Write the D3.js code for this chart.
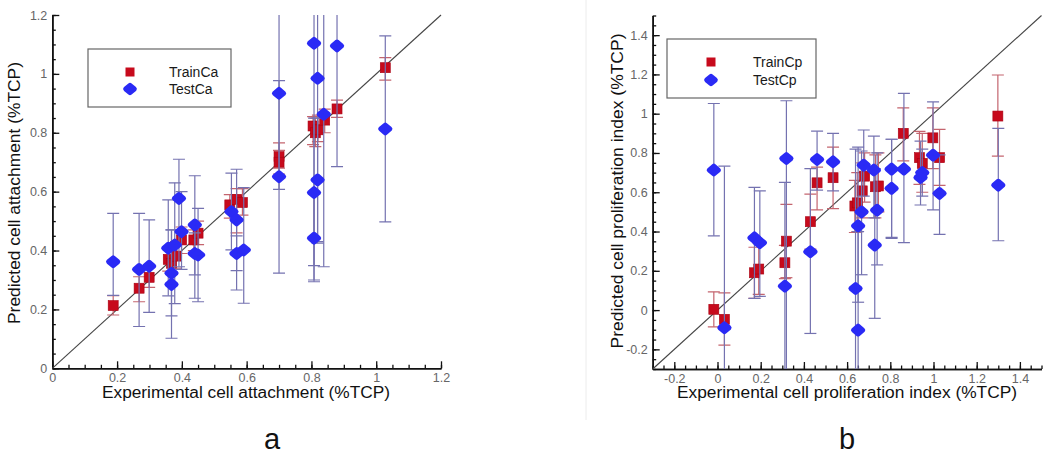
<!DOCTYPE html>
<html><head><meta charset="utf-8">
<script src="https://cdn.jsdelivr.net/npm/d3@7"></script>
<style>
html,body{margin:0;padding:0;background:#fff;}
svg text{font-family:"Liberation Sans",Arial,sans-serif;}
</style></head>
<body><svg id="c" width="1050" height="458"></svg>
<script>
// ---------- DATA ----------
// Panel a: cell attachment
const trainCaX  = [0.188,0.268,0.299,0.358,0.368,0.382,0.399,0.437,0.45,0.548,0.569,0.587,0.70,0.70,0.805,0.812,0.82,0.841,0.879,1.028];
const trainCaY  = [0.213,0.272,0.309,0.37,0.357,0.381,0.436,0.436,0.459,0.555,0.574,0.563,0.719,0.70,0.823,0.80,0.81,0.843,0.881,1.021];
const trainCaLo = [0.181,0.226,0.275,0.33,0.32,0.34,0.39,0.40,0.42,0.51,0.46,0.52,0.68,0.66,0.76,0.753,0.77,0.80,0.852,0.979];
const trainCaHi = [0.247,0.311,0.345,0.41,0.40,0.43,0.48,0.47,0.50,0.59,0.61,0.61,0.766,0.74,0.855,0.85,0.86,0.88,0.911,1.055];

const testCaX  = [0.188,0.268,0.299,0.358,0.368,0.368,0.378,0.391,0.399,0.44,0.44,0.45,0.553,0.569,0.569,0.591,0.70,0.70,0.808,0.808,0.808,0.819,0.819,0.838,0.879,1.028];
const testCaY  = [0.362,0.336,0.347,0.408,0.323,0.285,0.419,0.577,0.464,0.487,0.39,0.385,0.532,0.504,0.39,0.402,0.934,0.651,1.104,0.597,0.442,0.985,0.64,0.863,1.095,0.813];
const testCaLo = [0.248,0.142,0.19,0.246,0.178,0.102,0.22,0.345,0.336,0.238,0.317,0.226,0.402,0.266,0.332,0.221,0.323,0.608,0.294,0.349,0.30,0.425,0.43,0.345,0.685,0.497];
const testCaHi = [0.526,0.526,0.504,0.572,0.47,0.47,0.63,0.71,0.60,0.654,0.46,0.543,0.663,0.676,0.45,0.614,1.5,0.977,1.5,0.85,0.60,1.5,0.85,1.5,1.5,1.129];

// Panel b: cell proliferation index
const trainCpX  = [-0.017,0.032,0.171,0.191,0.312,0.319,0.43,0.461,0.535,0.636,0.647,0.67,0.681,0.731,0.745,0.86,0.935,0.948,0.997,1.028,1.298];
const trainCpY  = [0.004,-0.047,0.19,0.209,0.241,0.351,0.45,0.648,0.674,0.53,0.546,0.607,0.682,0.628,0.632,0.9,0.776,0.747,0.877,0.776,0.988];
const trainCpLo = [-0.085,-0.178,0.06,0.08,0.16,0.165,0.31,0.51,0.517,0.395,0.40,0.47,0.55,0.47,0.50,0.76,0.64,0.60,0.72,0.635,0.784];
const trainCpHi = [0.093,0.088,0.32,0.34,0.33,0.538,0.59,0.728,0.83,0.66,0.70,0.75,0.80,0.79,0.80,1.03,0.91,0.90,1.03,0.92,1.197];

const testCpX  = [-0.017,0.032,0.171,0.196,0.319,0.312,0.43,0.461,0.535,0.639,0.651,0.651,0.667,0.677,0.724,0.728,0.739,0.806,0.806,0.863,0.94,0.948,0.998,1.028,1.3];
const testCpY  = [0.713,-0.09,0.368,0.343,0.772,0.122,0.297,0.767,0.755,0.11,0.429,-0.102,0.5,0.738,0.713,0.331,0.509,0.718,0.62,0.718,0.675,0.70,0.789,0.594,0.636];
const testCpLo = [0.378,-0.5,0.06,0.07,-0.5,-0.5,-0.119,0.611,0.607,-0.5,0.04,-0.5,0.18,0.58,0.47,-0.042,0.23,0.37,0.365,0.343,0.535,0.58,0.51,0.385,0.353];
const testCpHi = [1.052,0.733,0.625,0.607,1.066,0.65,0.72,0.911,0.9,0.82,0.83,0.40,0.81,0.917,0.886,0.72,0.80,0.87,0.87,1.103,0.86,0.82,1.06,0.79,0.925];

// Ticks
const ticksA      = [0,0.2,0.4,0.6,0.8,1,1.2];
const tickLabelsA = ["0","0.2","0.4","0.6","0.8","1","1.2"];
const ticksB      = [-0.2,0,0.2,0.4,0.6,0.8,1,1.2,1.4];
const tickLabelsB = ["-0.2","0","0.2","0.4","0.6","0.8","1","1.2","1.4"];

const panelA = {
  xDom:[0,1.2], yDom:[0,1.2], xR:[52.3,441], yR:[368.3,15],
  train:{x:trainCaX,y:trainCaY,lo:trainCaLo,hi:trainCaHi,name:"TrainCa"},
  test:{x:testCaX,y:testCaY,lo:testCaLo,hi:testCaHi,name:"TestCa"},
  ticks:ticksA, labels:tickLabelsA,
  xTitle:"Experimental cell attachment (%TCP)", xTitleLen:288, xTitleX:246,
  yTitle:"Predicted cell attachment (%TCP)", yTitleLen:262, yTitleX:20, yTitleY:193,
  legend:{x:88,y:49,w:143,h:58,mx:130,tx:169,y1:72,y2:89},
  tag:"a", tagX:272
};
const panelB = {
  xDom:[-0.3,1.5], yDom:[-0.3,1.5], xR:[652.7,1041.5], yR:[369,15.5],
  train:{x:trainCpX,y:trainCpY,lo:trainCpLo,hi:trainCpHi,name:"TrainCp"},
  test:{x:testCpX,y:testCpY,lo:testCpLo,hi:testCpHi,name:"TestCp"},
  ticks:ticksB, labels:tickLabelsB,
  xTitle:"Experimental cell proliferation index (%TCP)", xTitleLen:340, xTitleX:847,
  yTitle:"Predicted cell proliferation index (%TCP)", yTitleLen:315, yTitleX:623, yTitleY:191,
  legend:{x:667,y:39,w:149,h:59,mx:711,tx:753,y1:62,y2:80},
  tag:"b", tagX:847
};

// ---------- DRAW ----------
const svg = d3.select("#c");
const RED = "#c70a1c", BLUE = "#2a2af5", RED_ERR = "#c4646e", BLUE_ERR = "#7472b0";

// faint frame line of panel b
svg.append("line").attr("x1",586).attr("x2",586).attr("y1",0).attr("y2",420)
   .attr("stroke","#ececec").attr("stroke-width",1);

function diamondPath(rx, ry){ return `M0,${-ry}L${rx},0L0,${ry}L${-rx},0Z`; }

function drawPanel(p, idx){
  const x = d3.scaleLinear(p.xDom, p.xR);
  const y = d3.scaleLinear(p.yDom, p.yR);
  const g = svg.append("g");

  const clipId = "clip"+idx;
  svg.append("clipPath").attr("id",clipId).append("rect")
     .attr("x",p.xR[0]).attr("y",p.yR[1]).attr("width",p.xR[1]-p.xR[0]).attr("height",p.yR[0]-p.yR[1]);

  // minor ticks
  const minor = d3.range(Math.round(p.xDom[0]*20), Math.round(p.xDom[1]*20)+1).map(v=>v/20);
  const xMinor = d3.axisBottom(x).tickValues(minor).tickSize(-3.5).tickFormat("").tickSizeOuter(0);
  const yMinor = d3.axisLeft(y).tickValues(minor).tickSize(-3.5).tickFormat("").tickSizeOuter(0);
  const xMaj = d3.axisBottom(x).tickValues(p.ticks).tickSize(-7).tickSizeOuter(0).tickPadding(5)
      .tickFormat((d,i)=>p.labels[i]);
  const yMaj = d3.axisLeft(y).tickValues(p.ticks).tickSize(-7).tickSizeOuter(0).tickPadding(5)
      .tickFormat((d,i)=>p.labels[i]);

  const ax = [
    g.append("g").attr("transform",`translate(0,${p.yR[0]})`).call(xMinor),
    g.append("g").attr("transform",`translate(${p.xR[0]},0)`).call(yMinor),
    g.append("g").attr("transform",`translate(0,${p.yR[0]})`).call(xMaj),
    g.append("g").attr("transform",`translate(${p.xR[0]},0)`).call(yMaj)
  ];
  ax.forEach(a=>{
    a.select(".domain").attr("stroke","#111").attr("stroke-width",1.6);
    a.selectAll(".tick line").attr("stroke","#111").attr("stroke-width",1.3);
    a.selectAll(".tick text").attr("fill","#666").attr("font-size",12.5);
  });

  // diagonal
  const lo = Math.max(p.xDom[0],p.yDom[0]), hi = Math.min(p.xDom[1],p.yDom[1]);
  g.append("line").attr("x1",x(lo)).attr("y1",y(lo)).attr("x2",x(hi)).attr("y2",y(hi))
   .attr("stroke","#444").attr("stroke-width",1.1);

  function errBars(s, color){
    const eg = g.append("g").attr("clip-path",`url(#${clipId})`)
      .attr("stroke",color).attr("stroke-width",1.2).attr("fill","none");
    s.x.forEach((xv,i)=>{
      const px = x(xv);
      eg.append("line").attr("x1",px).attr("x2",px).attr("y1",y(s.lo[i])).attr("y2",y(s.hi[i]));
      [s.lo[i], s.hi[i]].forEach(v=>{
        eg.append("line").attr("x1",px-6).attr("x2",px+6).attr("y1",y(v)).attr("y2",y(v));
      });
    });
  }
  function squares(s){
    g.append("g").selectAll("rect").data(s.x).join("rect")
      .attr("x",(d)=>x(d)-5).attr("y",(d,i)=>y(s.y[i])-5)
      .attr("width",10).attr("height",10).attr("fill",RED)
      .attr("stroke","#a80012").attr("stroke-width",0.6);
  }
  function diamonds(s){
    g.append("g").selectAll("path").data(s.x).join("path")
      .attr("d",diamondPath(4.6,3.9))
      .attr("transform",(d,i)=>`translate(${x(d)},${y(s.y[i])})`)
      .attr("fill",BLUE).attr("stroke",BLUE).attr("stroke-width",5).attr("stroke-linejoin","round");
  }
  errBars(p.train, RED_ERR);
  squares(p.train);
  errBars(p.test, BLUE_ERR);
  diamonds(p.test);

  // legend
  const L = p.legend;
  g.append("rect").attr("x",L.x).attr("y",L.y).attr("width",L.w).attr("height",L.h)
    .attr("fill","#fff").attr("stroke","#666").attr("stroke-width",1.2);
  g.append("rect").attr("x",L.mx-4.5).attr("y",L.y1-4.5).attr("width",9).attr("height",9).attr("fill",RED);
  g.append("path").attr("d",diamondPath(4.3,3.7)).attr("transform",`translate(${L.mx},${L.y2})`)
    .attr("fill",BLUE).attr("stroke",BLUE).attr("stroke-width",5).attr("stroke-linejoin","round");
  g.append("text").attr("x",L.tx).attr("y",L.y1).attr("dy","0.36em").attr("font-size",14)
    .attr("fill","#1a1a1a").text(p.train.name);
  g.append("text").attr("x",L.tx).attr("y",L.y2).attr("dy","0.36em").attr("font-size",14)
    .attr("fill","#1a1a1a").text(p.test.name);

  // titles
  g.append("text").attr("x",p.xTitleX).attr("y",398).attr("text-anchor","middle").attr("font-size",16)
    .attr("fill","#111").attr("textLength",p.xTitleLen).attr("lengthAdjust","spacingAndGlyphs").text(p.xTitle);
  g.append("text").attr("transform",`translate(${p.yTitleX},${p.yTitleY}) rotate(-90)`).attr("text-anchor","middle")
    .attr("font-size",17).attr("fill","#111").attr("textLength",p.yTitleLen).attr("lengthAdjust","spacingAndGlyphs")
    .text(p.yTitle);

  // panel tag
  g.append("text").attr("x",p.tagX).attr("y",449).attr("text-anchor","middle").attr("font-size",29)
    .attr("fill","#111").text(p.tag);
}
drawPanel(panelA,0);
drawPanel(panelB,1);
</script></body></html>
